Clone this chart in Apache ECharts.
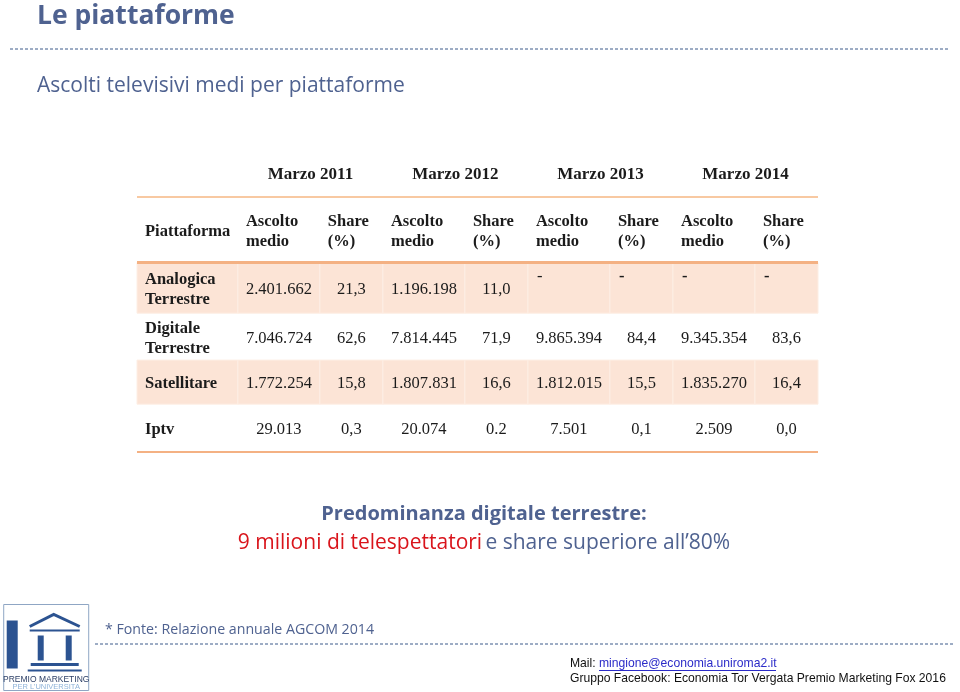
<!DOCTYPE html>
<html>
<head>
<meta charset="utf-8">
<script src="https://cdn.jsdelivr.net/npm/echarts@6/dist/echarts.min.js"></script>
<style>
  html, body { margin: 0; padding: 0; background: #fff; }
  #main { width: 960px; height: 692px; }
</style>
</head>
<body>
<div id="main"></div>
<script>
// table data (as printed in the source, AGCOM 2014)
const years = ['Marzo 2011', 'Marzo 2012', 'Marzo 2013', 'Marzo 2014'];
const colHeaders = ['Piattaforma', 'Ascolto\nmedio', 'Share\n(%)', 'Ascolto\nmedio', 'Share\n(%)',
  'Ascolto\nmedio', 'Share\n(%)', 'Ascolto\nmedio', 'Share\n(%)'];
const platforms = ['Analogica\nTerrestre', 'Digitale\nTerrestre', 'Satellitare', 'Iptv'];
const ascolto2011 = ['2.401.662', '7.046.724', '1.772.254', '29.013'];
const share2011 = ['21,3', '62,6', '15,8', '0,3'];
const ascolto2012 = ['1.196.198', '7.814.445', '1.807.831', '20.074'];
const share2012 = ['11,0', '71,9', '16,6', '0.2'];
const ascolto2013 = ['-', '9.865.394', '1.812.015', '7.501'];
const share2013 = ['-', '84,4', '15,5', '0,1'];
const ascolto2014 = ['-', '9.345.354', '1.835.270', '2.509'];
const share2014 = ['-', '83,6', '16,4', '0,0'];

// layout weights for columns / rows of the table
const colW = [1.6, 1.3, 1, 1.3, 1, 1.3, 1, 1.3, 1];
const rowH = [1, 1.4, 1.08, 1, 0.94, 1.02];
const colEdge = [0];
colW.forEach(w => colEdge.push(colEdge[colEdge.length - 1] + w));
const rowEdge = [0];
rowH.forEach(h => rowEdge.push(rowEdge[rowEdge.length - 1] + h));

const PEACH = '#fce4d6';
const ORANGE = '#f4b183';
const INK = '#1b1b1b';
const SERIF = '"Liberation Serif", "Times New Roman", serif';

// build the list of cells
const cells = [];
cells.push({ kind: 'rule', r: 1, color: '#f8c9a2', w: 2 });
cells.push({ kind: 'rule', r: 2, color: ORANGE, w: 3 });
cells.push({ kind: 'rule', r: 6, color: ORANGE, w: 2 });
years.forEach((y, i) => {
  cells.push({ kind: 'year', c0: 1 + i * 2, c1: 3 + i * 2, r: 0, text: y });
});
colHeaders.forEach((h, i) => {
  cells.push({ kind: 'head', c0: i, c1: i + 1, r: 1, text: h });
});
const valueCols = [ascolto2011, share2011, ascolto2012, share2012, ascolto2013, share2013, ascolto2014, share2014];
platforms.forEach((p, r) => {
  const fill = r % 2 === 0 ? PEACH : null;
  cells.push({ kind: 'label', c0: 0, c1: 1, r: r + 2, text: p, fill });
  valueCols.forEach((col, j) => {
    const isDash = col[r] === '-';
    cells.push({ kind: isDash ? 'dash' : 'value', c0: j + 1, c1: j + 2, r: r + 2, text: col[r], fill, bold: isDash && j > 4 });
  });
});

function renderCell(params, api) {
  const c = cells[params.dataIndex];
  if (c.kind === 'rule') {
    const a = api.coord([0, rowEdge[c.r]]);
    const b = api.coord([colEdge[colEdge.length - 1], rowEdge[c.r]]);
    return { type: 'line', shape: { x1: a[0], y1: a[1], x2: b[0], y2: b[1] },
      style: { stroke: c.color, lineWidth: c.w }, z2: 10 };
  }
  const p0 = api.coord([colEdge[c.c0], rowEdge[c.r]]);
  const p1 = api.coord([colEdge[c.c1], rowEdge[c.r + 1]]);
  const x0 = p0[0], y0 = p0[1], x1 = p1[0], y1 = p1[1];
  const children = [];
  if (c.fill) {
    children.push({ type: 'rect', shape: { x: x0, y: y0, width: x1 - x0, height: y1 - y0 },
      style: { fill: c.fill, stroke: '#fdeee4', lineWidth: 1 } });
  }
  const bold = c.kind === 'year' || c.kind === 'head' || c.kind === 'label' || c.bold;
  let tx = (x0 + x1) / 2, ty = (y0 + y1) / 2 + 2, align = 'center', va = 'middle';
  if (c.kind === 'year') ty -= 1;
  if (c.kind === 'head' || c.kind === 'label') { tx = x0 + 8; align = 'left'; }
  if (c.kind === 'dash') { tx = x0 + 9; align = 'left'; ty = y0 + 4; va = 'top'; }
  children.push({ type: 'text', style: {
    text: c.text, x: tx, y: ty, align, verticalAlign: va,
    fontFamily: SERIF, fontSize: c.kind === 'year' ? 17 : 16.5, fontWeight: bold ? 'bold' : 'normal',
    lineHeight: 20, fill: INK } });
  return { type: 'group', children };
}

const SLATE = '#4f6290';
const SANS = '"Open Sans", sans-serif';
const ARIAL = '"Liberation Sans", Arial, sans-serif';
const chart = echarts.init(document.getElementById('main'));
chart.setOption({
  backgroundColor: '#fff',
  animation: false,
  grid: { left: 137, top: 150, width: 681, height: 302 },
  xAxis: { type: 'value', min: 0, max: colEdge[colEdge.length - 1], show: false },
  yAxis: { type: 'value', min: 0, max: rowEdge[rowEdge.length - 1], inverse: true, show: false },
  series: [{
    type: 'custom',
    renderItem: renderCell,
    data: cells.map(c => [c.c0 || 0, c.r]),
    encode: { x: 0, y: 1 },
    silent: true,
    clip: false
  }],
  graphic: [
    { type: 'text', x: 37, y: 16, style: { text: 'Le piattaforme', fontFamily: SANS, fontSize: 26.5, fontWeight: 'bold', fill: SLATE, verticalAlign: 'middle' } },
    { type: 'line', shape: { x1: 10, y1: 49, x2: 950, y2: 49 }, style: { stroke: '#3d5a8a', lineWidth: 1, lineDash: [3, 2] } },
    { type: 'text', x: 37, y: 86, style: { text: 'Ascolti televisivi medi per piattaforme', fontFamily: SANS, fontSize: 21, fill: SLATE, verticalAlign: 'middle' } },
    { type: 'text', x: 484, y: 514, style: { text: 'Predominanza digitale terrestre:', fontFamily: SANS, fontSize: 20, fontWeight: 'bold', fill: SLATE, align: 'center', verticalAlign: 'middle' } },
    { type: 'text', x: 484, y: 543, style: {
      text: '{r|9 milioni di telespettatori} {s|e share superiore all\u201980%}',
      align: 'center', verticalAlign: 'middle',
      rich: {
        r: { fontFamily: SANS, fontSize: 21, fill: '#d9141b' },
        s: { fontFamily: SANS, fontSize: 21, fill: SLATE }
      } } },
    { type: 'text', x: 105, y: 630, style: { text: '* Fonte: Relazione annuale AGCOM 2014', fontFamily: SANS, fontSize: 14.2, fill: SLATE, verticalAlign: 'middle' } },
    { type: 'line', shape: { x1: 95, y1: 644, x2: 955, y2: 644 }, style: { stroke: '#3d5a8a', lineWidth: 1, lineDash: [3, 2] } },
    { type: 'text', x: 570, y: 664, style: { text: 'Mail: {u|mingione@economia.uniroma2.it}', fontFamily: ARIAL, fontSize: 12.15, fill: '#111', verticalAlign: 'middle',
      rich: { u: { fontFamily: ARIAL, fontSize: 12.15, fill: '#2b2bc8' } } } },
    { type: 'line', shape: { x1: 599, y1: 670.5, x2: 776, y2: 670.5 }, style: { stroke: '#2b2bc8', lineWidth: 1 } },
    { type: 'text', x: 570, y: 679, style: { text: 'Gruppo Facebook: Economia Tor Vergata Premio Marketing Fox 2016', fontFamily: ARIAL, fontSize: 12.15, fill: '#111', verticalAlign: 'middle' } },
    // logo
    { type: 'group', left: 3, top: 604, children: [
      { type: 'rect', shape: { x: 0, y: 0, width: 85, height: 86 }, style: { fill: '#fff', stroke: '#8fa6c4', lineWidth: 1 } },
      { type: 'rect', shape: { x: 3, y: 16, width: 11, height: 48 }, style: { fill: '#2c5391' } },
      { type: 'polyline', shape: { points: [[26, 22], [50, 10], [76, 22]] }, style: { stroke: '#2c5391', lineWidth: 3, fill: null } },
      { type: 'line', shape: { x1: 26, y1: 26, x2: 76, y2: 26 }, style: { stroke: '#2c5391', lineWidth: 2 } },
      { type: 'rect', shape: { x: 34, y: 31, width: 6, height: 25 }, style: { fill: '#2c5391' } },
      { type: 'rect', shape: { x: 62, y: 31, width: 6, height: 25 }, style: { fill: '#2c5391' } },
      { type: 'line', shape: { x1: 27, y1: 60, x2: 75, y2: 60 }, style: { stroke: '#2c5391', lineWidth: 3 } },
      { type: 'line', shape: { x1: 24, y1: 66, x2: 78, y2: 66 }, style: { stroke: '#2c5391', lineWidth: 2 } },
      { type: 'text', x: 42.5, y: 75, style: { text: 'PREMIO MARKETING', fontFamily: ARIAL, fontSize: 8.5, fill: '#2c3f66', align: 'center', verticalAlign: 'middle' } },
      { type: 'text', x: 42.5, y: 82.5, style: { text: 'PER L\u2019UNIVERSITA', fontFamily: ARIAL, fontSize: 7.5, fill: '#8fb3d9', align: 'center', verticalAlign: 'middle' } }
    ] }
  ]
});
</script>
</body>
</html>
